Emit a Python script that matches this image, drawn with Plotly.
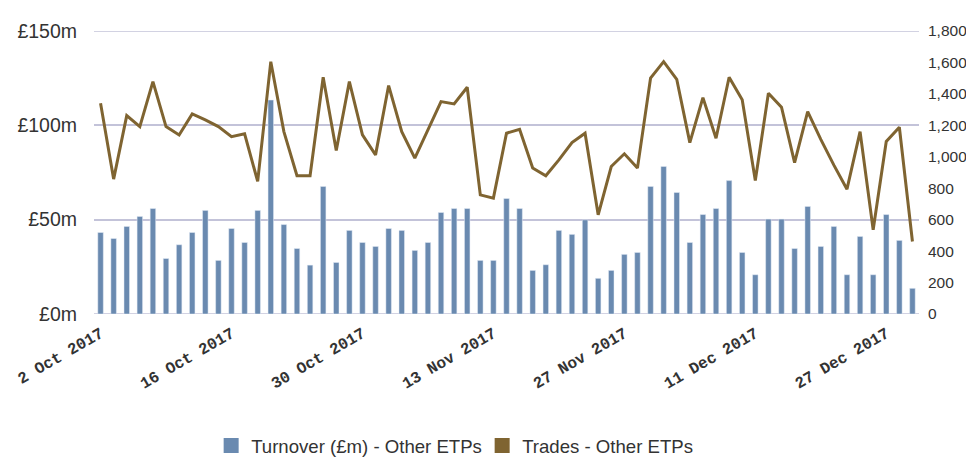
import pandas as pd
import plotly.graph_objects as go

# Trading days, Q4 2017 (UK market closed 25 and 26 Dec)
days = pd.bdate_range("2017-10-02", "2017-12-29")
days = [d for d in days if d.strftime("%m-%d") not in ("12-25", "12-26")]
dates = [d.strftime("%Y-%m-%d") for d in days]

# Turnover (£m) - Other ETPs
turnover = [43.2, 40.0, 46.4, 51.7, 55.9, 29.4, 36.7, 43.2, 54.9, 28.4,
            45.3, 37.9, 54.9, 113.4, 47.4, 34.7, 25.9, 67.6, 27.3, 44.3,
            37.9, 35.8, 45.3, 44.3, 33.7, 37.9, 53.8, 55.9, 55.9, 28.4,
            28.4, 61.2, 55.9, 23.1, 26.1, 44.3, 42.2, 49.9, 18.9, 23.1,
            31.6, 32.6, 67.6, 78.2, 64.4, 37.9, 52.7, 55.9, 70.7, 32.6,
            20.8, 50.3, 50.3, 34.7, 57.0, 35.8, 46.4, 20.8, 41.1, 20.8,
            52.7, 39.0, 13.6]

# Trades - Other ETPs
trades = [1341, 858, 1262, 1192, 1478, 1192, 1139, 1273, 1235, 1192,
          1128, 1146, 843, 1605, 1160, 879, 879, 1506, 1040, 1478,
          1139, 1012, 1453, 1160, 991, 1171, 1351, 1336, 1442, 758,
          737, 1150, 1175, 928, 879, 980, 1090, 1150, 631, 938,
          1019, 928, 1500, 1605, 1493, 1090, 1376, 1118, 1506, 1362,
          849, 1404, 1315, 963, 1287, 1111, 947, 794, 1160, 536,
          1097, 1188, 461]

tick_idx = [0, 10, 20, 30, 40, 50, 60]
tick_text = ["2 Oct 2017", "16 Oct 2017", "30 Oct 2017", "13 Nov 2017",
             "27 Nov 2017", "11 Dec 2017", "27 Dec 2017"]

left_ticks = [0, 50, 100, 150]
left_text = ["£0m", "£50m", "£100m", "£150m"]

bar_col = "#6a8ab0"
line_col = "#7f6431"
grid_col = "#c3c3d9"
text_col = "#333333"

fig = go.Figure()
fig.add_trace(go.Bar(x=dates, y=turnover, marker_color=bar_col,
                     showlegend=False, yaxis="y"))
fig.add_trace(go.Scatter(x=dates, y=trades, mode="lines", yaxis="y2",
                         line=dict(color=line_col, width=3), showlegend=False))
# legend swatches (square for both series)
fig.add_trace(go.Scatter(x=[None], y=[None], mode="markers",
                         marker=dict(symbol="square", size=15, color=bar_col),
                         name="Turnover (£m) - Other ETPs"))
fig.add_trace(go.Scatter(x=[None], y=[None], mode="markers",
                         marker=dict(symbol="square", size=15, color=line_col),
                         name="Trades - Other ETPs"))

# plotly skips gridlines on the plot edges, draw those two by hand
for v in (left_ticks[0], left_ticks[-1]):
    fig.add_shape(type="line", xref="paper", x0=0, x1=1, yref="y", y0=v, y1=v,
                  line=dict(color=grid_col, width=1.5), layer="below")

# the page body adds an 8px offset, size and margins allow for it
fig.update_layout(
    width=966, height=449,
    margin=dict(l=86, r=55, t=23, b=143, autoexpand=False),
    paper_bgcolor="white", plot_bgcolor="white",
    bargap=0.58,
    font=dict(family="Liberation Sans, Arial, sans-serif", color=text_col),
    xaxis=dict(type="category", categoryorder="array", categoryarray=dates,
               tickvals=[dates[i] for i in tick_idx], ticktext=tick_text,
               tickangle=-30, showgrid=False, zeroline=False,
               ticks="outside", ticklen=3, tickcolor="white",
               tickfont=dict(family="Liberation Mono, Courier New, monospace",
                             size=16, color=text_col, weight="bold"),
               showline=False, automargin=False),
    yaxis=dict(range=[0, 150], tickvals=left_ticks, ticktext=left_text,
               showgrid=True, gridcolor=grid_col, gridwidth=1.5,
               zeroline=False, ticks="", ticklabelstandoff=16,
               tickfont=dict(size=19.5, color=text_col), automargin=False),
    yaxis2=dict(range=[0, 1800], dtick=200, tickformat=",",
                overlaying="y", side="right", showgrid=False,
                zeroline=False, ticklabelstandoff=8,
                tickfont=dict(size=15.5, color=text_col), automargin=False),
    legend=dict(orientation="h", x=0.142, xanchor="left", y=-0.466,
                yanchor="middle", font=dict(size=18.6, color=text_col),
                entrywidth=226),
)

fig.write_html("out.html")
